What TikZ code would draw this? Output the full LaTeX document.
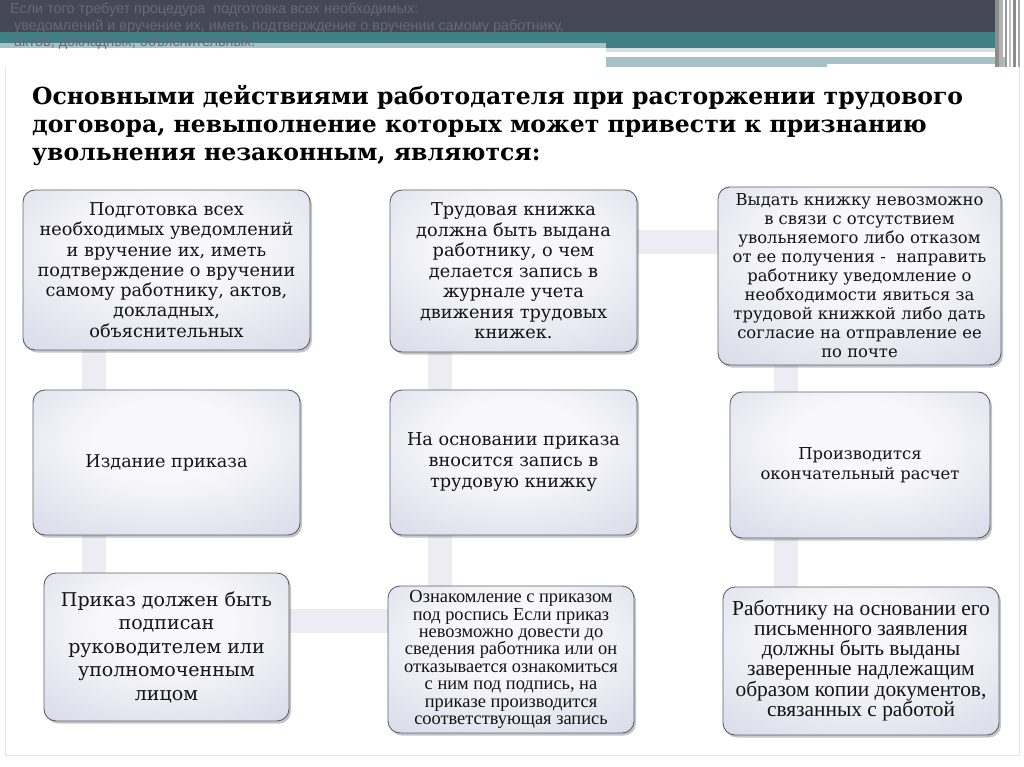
\documentclass[tikz,border=0pt]{standalone}
\usepackage{fontspec}
\setmainfont{DejaVu Serif}
\newfontfamily\timesfont{Liberation Serif}
\newfontfamily\slidefont{Liberation Sans}
\usetikzlibrary{shapes, positioning, calc, shadows, backgrounds}

\definecolor{slidedark}{RGB}{70,71,86}
\definecolor{slideteal}{RGB}{64,128,132}
\definecolor{slidepale}{RGB}{166,194,197}
\definecolor{slidetext}{RGB}{104,104,122}
\definecolor{boxin}{RGB}{248,248,251}
\definecolor{boxmid}{RGB}{222,222,236}
\definecolor{boxout}{RGB}{192,192,216}
\definecolor{boxedge}{RGB}{178,178,206}
\definecolor{boxline}{RGB}{95,95,110}
\definecolor{linkgray}{RGB}{236,236,242}

\pgfdeclareradialshading{boxglow}{\pgfpoint{0bp}{10bp}}{color(0bp)=(boxin); color(14bp)=(boxin); color(36bp)=(boxmid); color(52bp)=(boxout); color(75bp)=(boxedge)}

\begin{document}
\begin{tikzpicture}[x=1pt, y=-1pt,
  box/.style={draw=boxline, line width=0.9pt, rounded corners=12pt, shading=boxglow,
    drop shadow={shadow xshift=2pt, shadow yshift=-2.5pt, opacity=0.45}, align=center, inner sep=0pt, text=black!92},
  link/.style={draw=linkgray, line width=24pt}]

\useasboundingbox (0,0) rectangle (1024,767);

\fill[slidedark] (0,0) rectangle (995,32);
\fill[slideteal] (0,32) rectangle (995,48);
\fill[slidepale] (0,43) rectangle (606,48);
\fill[slidepale!50] (606,48) rectangle (995,52);
\fill[slidepale] (606,57) rectangle (1005,67);
\fill[white] (827,64) rectangle (995,68);
\foreach \x/\w/\c in {995/4.3/black!45, 999.3/4/black!30, 1005/2.3/black!40, 1009.3/1.4/black!25, 1013.3/2.7/black!45, 1018.3/1.7/black!35}
  \fill[\c] (\x,0) rectangle ++(\w,67);
\draw[black!10] (5,67) -- (5,755) -- (1019,755) -- (1019,67);

\node[anchor=north west, align=left, inner sep=0pt, text=slidetext, font=\slidefont\fontsize{14.4}{16.3}\selectfont] (note) at (10,3)
  {Если того требует процедура\ \ подготовка всех необходимых:\\
  \ уведомлений и вручение их, иметь подтверждение о вручении самому работнику,\\
  \ актов, докладных, объяснительных.};

\node[anchor=north west, align=left, inner sep=0pt, font=\bfseries\fontsize{23.5}{28}\selectfont] (title) at (32,85)
  {Основными действиями работодателя при расторжении трудового\\
  договора, невыполнение которых может привести к признанию\\
  увольнения незаконным, являются:};

\node[box, minimum width=287pt, minimum height=160pt, font=\fontsize{17.7}{20.3}\selectfont] (prep) at (166.5,270)
  {Подготовка всех\\ необходимых уведомлений\\ и вручение их, иметь\\ подтверждение о вручении\\ самому работнику, актов,\\ докладных,\\ объяснительных};
\node[box, minimum width=267pt, minimum height=145pt, font=\fontsize{17.6}{20.5}\selectfont] (order) at (166.5,462.5)
  {Издание приказа};
\node[box, minimum width=245pt, minimum height=148pt, font=\fontsize{19}{23.5}\selectfont] (sign) at (166.5,647)
  {Приказ должен быть\\ подписан\\ руководителем или\\ уполномоченным\\ лицом};

\node[box, minimum width=247pt, minimum height=162pt, font=\fontsize{17.7}{20.5}\selectfont] (book) at (513.5,271)
  {Трудовая книжка\\ должна быть выдана\\ работнику, о чем\\ делается запись в\\ журнале учета\\ движения трудовых\\ книжек.};
\node[box, minimum width=247pt, minimum height=145pt, font=\fontsize{17.7}{21}\selectfont] (entry) at (513.5,462.5)
  {На основании приказа\\ вносится запись в\\ трудовую книжку};
\node[box, minimum width=246pt, minimum height=147pt, font=\timesfont\fontsize{18.4}{17.4}\selectfont] (acquaint) at (511,659.5)
  {Ознакомление с приказом\\ под роспись Если приказ\\ невозможно довести до\\ сведения работника или он\\ отказывается ознакомиться\\ с ним под подпись, на\\ приказе производится\\ соответствующая запись};

\node[box, minimum width=283pt, minimum height=178pt, font=\fontsize{16.4}{19}\selectfont] (absent) at (859.5,276)
  {Выдать книжку невозможно\\ в связи с отсутствием\\ увольняемого либо отказом\\ от ее получения -\ \ направить\\ работнику уведомление о\\ необходимости явиться за\\ трудовой книжкой либо дать\\ согласие на отправление ее\\ по почте};
\node[box, minimum width=260pt, minimum height=146pt, font=\fontsize{16.4}{20}\selectfont] (settle) at (860,465)
  {Производится\\ окончательный расчет};
\node[box, minimum width=276pt, minimum height=148pt, font=\timesfont\fontsize{21.4}{19.8}\selectfont] (copies) at (861,661)
  {Работнику на основании его\\ письменного заявления\\ должны быть выданы\\ заверенные надлежащим\\ образом копии документов,\\ связанных с работой};

\coordinate (leftrail) at (94,0);
\coordinate (midrail) at (440,0);
\coordinate (rightrail) at (786,0);
\coordinate (toprail) at (0,242);
\coordinate (lowrail) at (0,621);

\begin{scope}[on background layer]
\draw[link] (prep.south -| leftrail) -- (order.north -| leftrail);
\draw[link] (order.south -| leftrail) -- (sign.north -| leftrail);
\draw[link] (sign.east |- lowrail) -- (acquaint.west |- lowrail);
\draw[link] (acquaint.north -| midrail) -- (entry.south -| midrail);
\draw[link] (entry.north -| midrail) -- (book.south -| midrail);
\draw[link] (book.east |- toprail) -- (absent.west |- toprail);
\draw[link] (absent.south -| rightrail) -- (settle.north -| rightrail);
\draw[link] (settle.south -| rightrail) -- (copies.north -| rightrail);
\end{scope}

\end{tikzpicture}
\end{document}
